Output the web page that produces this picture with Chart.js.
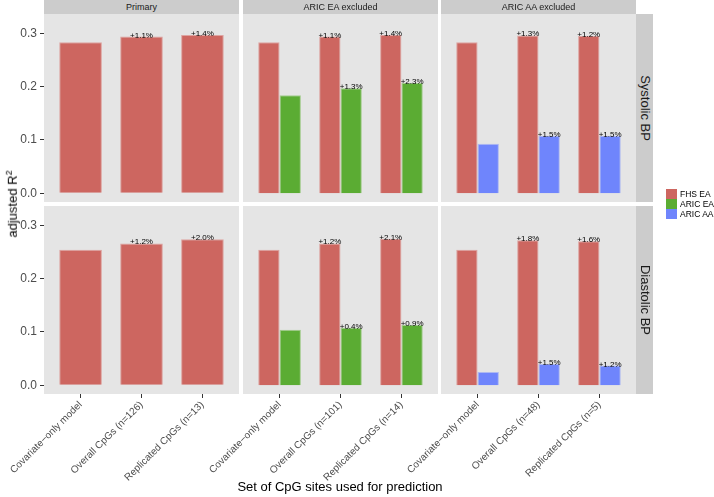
<!DOCTYPE html>
<html>
<head>
<meta charset="utf-8">
<script src="https://cdn.jsdelivr.net/npm/chart.js@4.4.1/dist/chart.umd.min.js"></script>
<style>
  body { margin: 0; background: #fff; font-family: "Liberation Sans", Arial, sans-serif; }
  #wrap { position: relative; width: 714px; height: 497px; overflow: hidden; }
  #wrap canvas { position: absolute; left: 0; top: 0; }
  .strip { position: absolute; background: #CCCCCC; color: #1A1A1A; }
  .lab { position: absolute; left: 50%; top: 50%; white-space: nowrap; }
  .key { position: absolute; left: 666px; width: 11px; height: 10px; }
  .keytxt { position: absolute; left: 680px; font-size: 8.5px; color: #000; line-height: 10px; white-space: nowrap; }
</style>
</head>
<body>
<div id="wrap"></div>
<script>
var facetNames = ['Primary', 'ARIC EA excluded', 'ARIC AA excluded'];
var rowNames = ['Systolic BP', 'Diastolic BP'];
var seriesNames = ['FHS EA', 'ARIC EA', 'ARIC AA'];
var seriesColors = ['#CD6660', '#5BAC33', '#6F85FC'];
var seriesEdges = ['#DDA3A0', '#A3CC8E', '#AEB9F2'];

// categories of each facet column
var catPrimary = ['Covariate\u2212only model', 'Overall CpGs (n=126)', 'Replicated CpGs (n=13)'];
var catNoEA = ['Covariate\u2212only model', 'Overall CpGs (n=101)', 'Replicated CpGs (n=14)'];
var catNoAA = ['Covariate\u2212only model', 'Overall CpGs (n=48)', 'Replicated CpGs (n=5)'];

// systolic BP (adjusted R2)
var fhsSys = [[0.283, 0.294, 0.297], [0.283, 0.294, 0.297], [0.283, 0.296, 0.295]];
var fhsSysPct = [['', '+1.1%', '+1.4%'], ['', '+1.1%', '+1.4%'], ['', '+1.3%', '+1.2%']];
var aricEaSys = [0.184, 0.197, 0.207];
var aricEaSysPct = ['', '+1.3%', '+2.3%'];
var aricAaSys = [0.093, 0.108, 0.108];
var aricAaSysPct = ['', '+1.5%', '+1.5%'];

// diastolic BP
var fhsDia = [[0.254, 0.266, 0.274], [0.254, 0.266, 0.275], [0.254, 0.272, 0.270]];
var fhsDiaPct = [['', '+1.2%', '+2.0%'], ['', '+1.2%', '+2.1%'], ['', '+1.8%', '+1.6%']];
var aricEaDia = [0.104, 0.108, 0.113];
var aricEaDiaPct = ['', '+0.4%', '+0.9%'];
var aricAaDia = [0.025, 0.040, 0.037];
var aricAaDiaPct = ['', '+1.5%', '+1.2%'];

var yTicks = [0, 0.1, 0.2, 0.3];

/////////////////////////////

var W = 714, H = 497;
var colLeft = [44, 243, 441];
var colRight = [239, 438, 636];
var rowTop = [14, 206];
var rowBottom = [202, 394];
var yAxisW = 44;
var xAxisH = 103;
var FONT = '"Liberation Sans", Arial, sans-serif';

Chart.defaults.font.family = FONT;

var wrap = document.getElementById('wrap');

var panelBg = {
    id: 'panelBg',
    beforeDraw: function (chart) {
        var a = chart.chartArea;
        var ctx = chart.ctx;
        ctx.save();
        ctx.fillStyle = '#E5E5E5';
        ctx.fillRect(a.left, a.top, a.right - a.left, a.bottom - a.top);
        ctx.restore();
    }
};

var pctLabels = {
    id: 'pctLabels',
    afterDatasetsDraw: function (chart) {
        var ctx = chart.ctx;
        ctx.save();
        ctx.font = '8px ' + FONT;
        ctx.fillStyle = '#000';
        ctx.textAlign = 'center';
        ctx.textBaseline = 'alphabetic';
        chart.data.datasets.forEach(function (ds, i) {
            chart.getDatasetMeta(i).data.forEach(function (bar, j) {
                var t = ds.pct[j];
                if (t) ctx.fillText(t, bar.x, bar.y + 1);
            });
        });
        ctx.restore();
    }
};

function toPoints(vals) {
    return vals.map(function (v, j) { return { x: j, y: v }; });
}

function makeDs(s, vals, pct) {
    return {
        label: seriesNames[s],
        data: toPoints(vals),
        pct: pct,
        backgroundColor: seriesColors[s],
        borderColor: seriesEdges[s],
        borderWidth: 1,
        categoryPercentage: 0.7,
        barPercentage: 1
    };
}

function panel(r, c) {
    var cats = [catPrimary, catNoEA, catNoAA][c];
    var fhs = r === 0 ? fhsSys : fhsDia;
    var fhsPct = r === 0 ? fhsSysPct : fhsDiaPct;
    var datasets = [makeDs(0, fhs[c], fhsPct[c])];
    if (c === 1) {
        datasets.push(r === 0 ? makeDs(1, aricEaSys, aricEaSysPct) : makeDs(1, aricEaDia, aricEaDiaPct));
    }
    if (c === 2) {
        datasets.push(r === 0 ? makeDs(2, aricAaSys, aricAaSysPct) : makeDs(2, aricAaDia, aricAaDiaPct));
    }

    var cv = document.createElement('canvas');
    cv.width = W; cv.height = H;
    cv.style.width = W + 'px'; cv.style.height = H + 'px';
    wrap.appendChild(cv);

    var showY = c === 0, showX = r === 1;

    new Chart(cv.getContext('2d'), {
        type: 'bar',
        data: { datasets: datasets },
        options: {
            responsive: false,
            animation: false,
            devicePixelRatio: 1,
            layout: {
                padding: {
                    left: colLeft[c] - (showY ? yAxisW : 0),
                    right: W - colRight[c],
                    top: rowTop[r],
                    bottom: H - rowBottom[r] - (showX ? xAxisH : 0)
                }
            },
            plugins: { legend: { display: false }, tooltip: { enabled: false } },
            scales: {
                x: {
                    type: 'linear',
                    min: -0.6, max: 2.6,
                    offset: false,
                    display: showX,
                    afterBuildTicks: function (s) { s.ticks = [0, 1, 2].map(function (v) { return { value: v }; }); },
                    afterFit: function (s) { s.height = showX ? xAxisH : 0; },
                    border: { display: false },
                    grid: { offset: false, drawOnChartArea: false, drawTicks: true, tickLength: 4, color: '#333333' },
                    ticks: {
                        autoSkip: false, minRotation: 45, maxRotation: 45, padding: 1,
                        color: '#4D4D4D', font: { size: 10 },
                        callback: function (v) { return cats[v]; }
                    }
                },
                y: {
                    min: -0.0163, max: 0.3362,
                    display: showY,
                    afterBuildTicks: function (s) { s.ticks = yTicks.map(function (v) { return { value: v }; }); },
                    afterFit: function (s) { s.width = showY ? yAxisW : 0; },
                    border: { display: false },
                    grid: { drawOnChartArea: false, drawTicks: true, tickLength: 4, color: '#333333' },
                    ticks: {
                        padding: 3, color: '#4D4D4D', font: { size: 12 },
                        callback: function (v) { return v.toFixed(1); }
                    }
                }
            }
        },
        plugins: [panelBg, pctLabels]
    });
}

for (var r = 0; r < 2; r++) {
    for (var c = 0; c < 3; c++) panel(r, c);
}

// facet strips
facetNames.forEach(function (name, c) {
    var d = document.createElement('div');
    d.className = 'strip';
    d.style.left = colLeft[c] + 'px'; d.style.top = '0px';
    d.style.width = (colRight[c] - colLeft[c]) + 'px'; d.style.height = rowTop[0] + 'px';
    d.innerHTML = '<div class="lab" style="transform:translate(-50%,-50%);font-size:9px">' + name + '</div>';
    wrap.appendChild(d);
});
rowNames.forEach(function (name, r) {
    var d = document.createElement('div');
    d.className = 'strip';
    d.style.left = colRight[2] + 'px'; d.style.top = rowTop[r] + 'px';
    d.style.width = '17px'; d.style.height = (rowBottom[r] - rowTop[r]) + 'px';
    d.innerHTML = '<div class="lab" style="transform:translate(-50%,-50%) rotate(90deg);font-size:13px">' + name + '</div>';
    wrap.appendChild(d);
});

// axis titles
var xt = document.createElement('div');
xt.style.cssText = 'position:absolute;left:' + colLeft[0] + 'px;width:' + (colRight[2] - colLeft[0]) + 'px;top:479px;text-align:center;font-size:13px;color:#000;white-space:nowrap';
xt.textContent = 'Set of CpG sites used for prediction';
wrap.appendChild(xt);

var yt = document.createElement('div');
yt.style.cssText = 'position:absolute;left:12px;top:204px;transform:translate(-50%,-50%) rotate(-90deg);font-size:13px;font-weight:normal;color:#000;white-space:nowrap';
yt.innerHTML = 'adjusted R<sup style="font-size:9px">2</sup>';
wrap.appendChild(yt);

// legend
seriesNames.forEach(function (name, i) {
    var k = document.createElement('div');
    k.className = 'key';
    k.style.top = (189 + i * 10) + 'px';
    k.style.background = seriesColors[i];
    wrap.appendChild(k);
    var t = document.createElement('div');
    t.className = 'keytxt';
    t.style.top = (189 + i * 10) + 'px';
    t.textContent = name;
    wrap.appendChild(t);
});
</script>
</body>
</html>
